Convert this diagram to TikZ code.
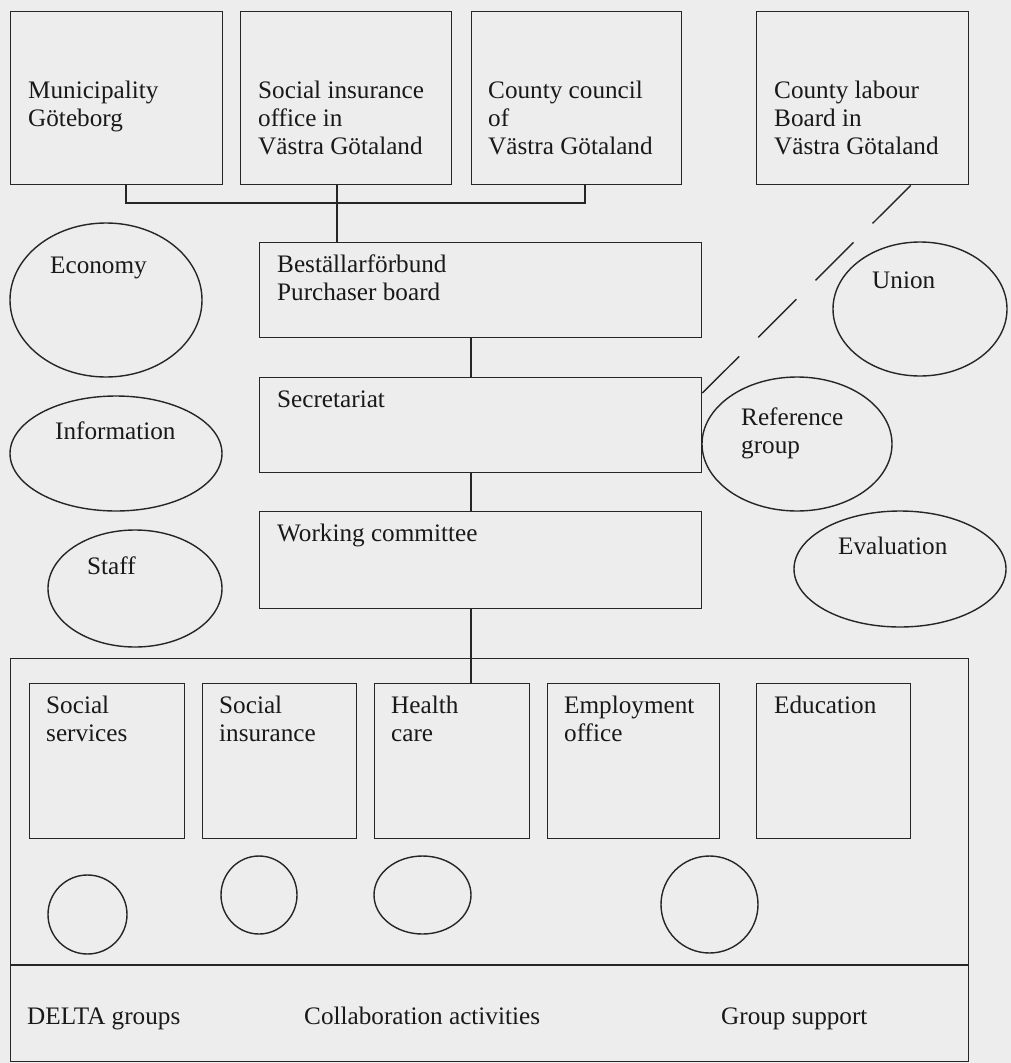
\documentclass[tikz,border=0pt]{standalone}
\usepackage{fontspec}
\setmainfont{Liberation Serif}
\usetikzlibrary{shapes.geometric}

\tikzset{
  box/.style={draw=black!85, rectangle, anchor=north west, inner sep=0pt, line width=1.4pt},
  blob/.style={draw=black!85, ellipse, inner sep=0pt, line width=1.4pt},
  txt/.style={anchor=base west, align=left, inner sep=0pt, text=black!90,
    font=\fontsize{25.2}{28}\selectfont},
  link/.style={draw=black!85, line width=1.4pt}
}

\begin{document}
\begin{tikzpicture}[x=1pt,y=-1pt]
\fill[black!7] (0,0) rectangle (1011,1063);

% owners (text nodes sit on the baseline of their last line)
\node[box, minimum width=212pt, minimum height=173pt] (mun) at (10,11) {};
\node[box, minimum width=211pt, minimum height=173pt] (sio) at (240,11) {};
\node[box, minimum width=210pt, minimum height=173pt] (cc) at (471,11) {};
\node[box, minimum width=212pt, minimum height=173pt] (clb) at (756,11) {};
\node[txt] (munt) at (28,126) {Municipality\\Göteborg};
\node[txt] (siot) at (258,154) {Social insurance\\office in\\Västra Götaland};
\node[txt] (cct) at (488,154) {County council\\of\\Västra Götaland};
\node[txt] (clbt) at (774,154) {County labour\\Board in\\Västra Götaland};

% management chain
\node[box, minimum width=442pt, minimum height=95pt] (pb) at (259,242) {};
\node[box, minimum width=442pt, minimum height=95pt] (sec) at (259,377) {};
\node[box, minimum width=442pt, minimum height=97pt] (wc) at (259,511) {};
\node[txt] (pbt) at (277,300) {Beställarförbund\\Purchaser board};
\node[txt] (sect) at (277,407) {Secretariat};
\node[txt] (wct) at (277,541) {Working committee};

% side functions
\node[blob, minimum width=192pt, minimum height=154pt] (eco) at (106,300) {};
\node[blob, minimum width=212pt, minimum height=115pt] (inf) at (116,453.5) {};
\node[blob, minimum width=174pt, minimum height=117pt] (stf) at (135,588.5) {};
\node[blob, minimum width=174pt, minimum height=134pt] (uni) at (920,309) {};
\node[blob, minimum width=190pt, minimum height=134pt] (ref) at (797,444) {};
\node[blob, minimum width=212pt, minimum height=116pt] (eva) at (900,569) {};
\node[txt] (ecot) at (50,273) {Economy};
\node[txt] (inft) at (55,439) {Information};
\node[txt] (stft) at (87,574) {Staff};
\node[txt] (unit) at (872,288) {Union};
\node[txt] (reft) at (741,453) {Reference\\group};
\node[txt] (evat) at (838,554) {Evaluation};

% collaboration frame
\node[box, minimum width=958pt, minimum height=403pt] (frame) at (10,658) {};
\node[box, minimum width=155pt, minimum height=155pt] (ss) at (29,683) {};
\node[box, minimum width=154pt, minimum height=155pt] (si) at (202,683) {};
\node[box, minimum width=155pt, minimum height=155pt] (hc) at (374,683) {};
\node[box, minimum width=172pt, minimum height=155pt] (eo) at (547,683) {};
\node[box, minimum width=154pt, minimum height=155pt] (ed) at (756,683) {};
\node[txt] (sst) at (46,741) {Social\\services};
\node[txt] (sit) at (219,741) {Social\\insurance};
\node[txt] (hct) at (391,741) {Health\\care};
\node[txt] (eot) at (564,741) {Employment\\office};
\node[txt] (edt) at (774,713) {Education};
\node[blob, minimum width=79pt, minimum height=79pt] (g1) at (87.5,914.5) {};
\node[blob, minimum width=76pt, minimum height=78pt] (g2) at (259,895) {};
\node[blob, minimum width=97pt, minimum height=78pt] (g3) at (422.5,895) {};
\node[blob, minimum width=97pt, minimum height=97pt] (g4) at (709.5,904.5) {};
\coordinate (split) at (0,965);
\draw[link] (frame.west |- split) -- (frame.east |- split);
\node[txt] (delta) at (27,1024) {DELTA groups};
\node[txt] (collab) at (304,1024) {Collaboration activities};
\node[txt] (gsup) at (721,1024) {Group support};

% connectors
\coordinate (busw) at (126,203);
\coordinate (buse) at (585,203);
\coordinate (drop) at (337,0);
\coordinate (spine) at (471,0);
\draw[link] (mun.south -| busw) -- (busw) -- (buse) -- (cc.south -| buse);
\draw[link] (sio.south -| drop) -- (pb.north -| drop);
\draw[link] (pb.south -| spine) -- (sec.north -| spine);
\draw[link] (sec.south -| spine) -- (wc.north -| spine);
\draw[link] (wc.south -| spine) -- (hc.north -| spine);
\draw[link, dash pattern=on 53.8pt off 26.9pt] ([xshift=48pt]clb.south) -- ([yshift=-16pt]sec.north east);
\end{tikzpicture}
\end{document}
